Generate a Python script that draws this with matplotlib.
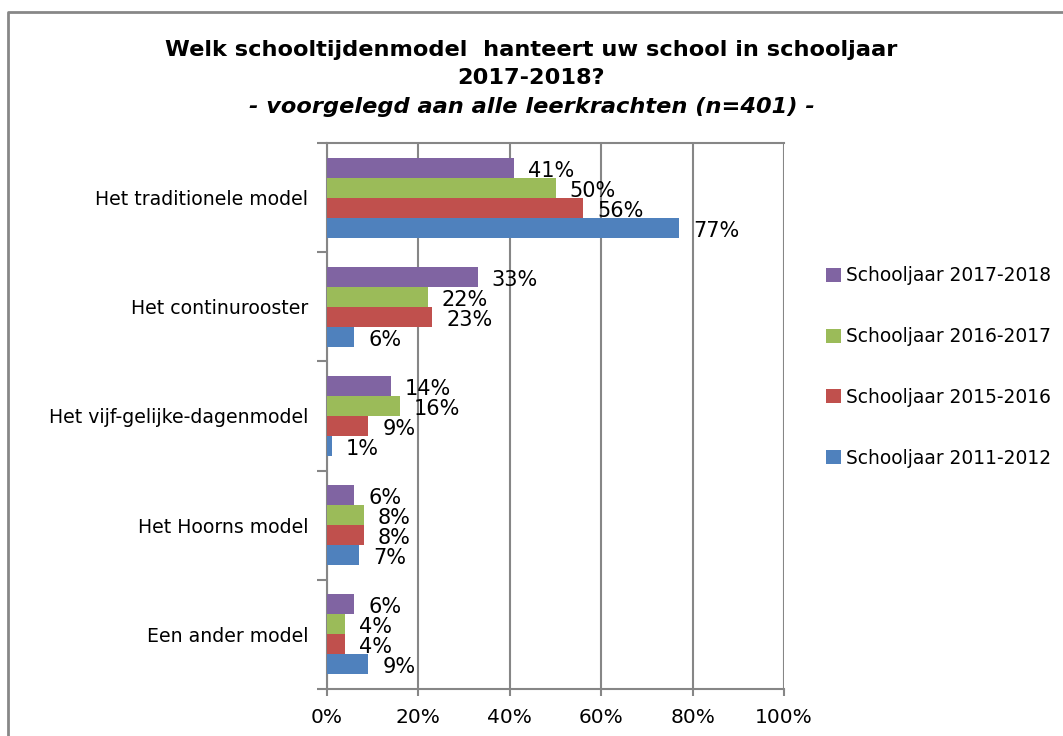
import matplotlib
matplotlib.use("Agg")
import matplotlib.pyplot as plt
from matplotlib.lines import Line2D
from matplotlib.patches import Patch
import numpy as np

categories = ["Het traditionele model", "Het continurooster", "Het vijf-gelijke-dagenmodel",
              "Het Hoorns model", "Een ander model"]
series_names = ["Schooljaar 2017-2018", "Schooljaar 2016-2017", "Schooljaar 2015-2016", "Schooljaar 2011-2012"]
values_2017_2018 = [41, 33, 14, 6, 6]
values_2016_2017 = [50, 22, 16, 8, 4]
values_2015_2016 = [56, 23, 9, 8, 4]
values_2011_2012 = [77, 6, 1, 7, 9]
colors = ["#8064A2", "#9BBB59", "#C0504D", "#4F81BD"]
xticks = [0, 20, 40, 60, 80, 100]
xticklabels = ["0%", "20%", "40%", "60%", "80%", "100%"]

all_series = [values_2017_2018, values_2016_2017, values_2015_2016, values_2011_2012]

W, H = 1063, 736
fig = plt.figure(figsize=(W / 100, H / 100), dpi=100)
plt.rcParams['font.family'] = ['DejaVu Sans']

ax = fig.add_axes([327 / W, 1 - 689 / H, (784 - 327) / W, (689 - 143) / H])

grid_color = "#868686"
h = 0.183
offsets = [-1.5 * h, -0.5 * h, 0.5 * h, 1.5 * h]
y = np.arange(len(categories))
for vals, col, off in zip(all_series, colors, offsets):
    ax.barh(y + off, vals, height=h, color=col, zorder=3)
    for yi, v in zip(y, vals):
        ax.annotate(f"{v}%", xy=(v, yi + off), xytext=(14, -3), textcoords="offset pixels",
                    ha="left", va="center", fontsize=15, color="black", zorder=4)

ax.set_xlim(0, 100)
ax.set_ylim(len(categories) - 0.5, -0.5)
ax.set_xticks(xticks)
ax.set_xticklabels(xticklabels, fontsize=14.5)
ax.set_yticks(y)
ax.set_yticklabels(categories, fontsize=13.6)
ax.set_yticks(np.arange(-0.5, len(categories)), minor=True)
ax.tick_params(axis="y", which="major", length=0, pad=13.5)
ax.tick_params(axis="y", which="minor", length=7, width=1.5, color=grid_color)
ax.tick_params(axis="x", which="major", length=5, width=1.5, color=grid_color, pad=9)
ax.xaxis.grid(True, color=grid_color, linewidth=1.5, zorder=0)
for s in ["left", "bottom", "top"]:
    ax.spines[s].set_color(grid_color)
    ax.spines[s].set_linewidth(1.5)
ax.spines["right"].set_visible(False)

handles = [Patch(facecolor=c, edgecolor='none') for c in colors]
fig.legend(handles, series_names, loc="center left", bbox_to_anchor=(817 / W, 1 - 367 / H),
           frameon=False, fontsize=13.4, labelspacing=2.25, handlelength=0.78, handleheight=0.78,
           handletextpad=0.3, borderpad=0)

fig.text(0.5, 1 - 50 / H, "Welk schooltijdenmodel  hanteert uw school in schooljaar",
         ha="center", va="center", fontsize=16.2, fontweight="bold")
fig.text(0.5, 1 - 78 / H, "2017-2018?", ha="center", va="center", fontsize=16.2, fontweight="bold")
fig.text(0.5, 1 - 107 / H, "- voorgelegd aan alle leerkrachten (n=401) -", ha="center", va="center",
         fontsize=16.2, fontweight="bold", fontstyle="italic")

fig.add_artist(Line2D([8 / W, 8 / W, 1.0], [0.0, 1 - 12 / H, 1 - 12 / H],
                      transform=fig.transFigure, color="#878787", linewidth=2))

fig.savefig("out.png", dpi=100, facecolor="white")
